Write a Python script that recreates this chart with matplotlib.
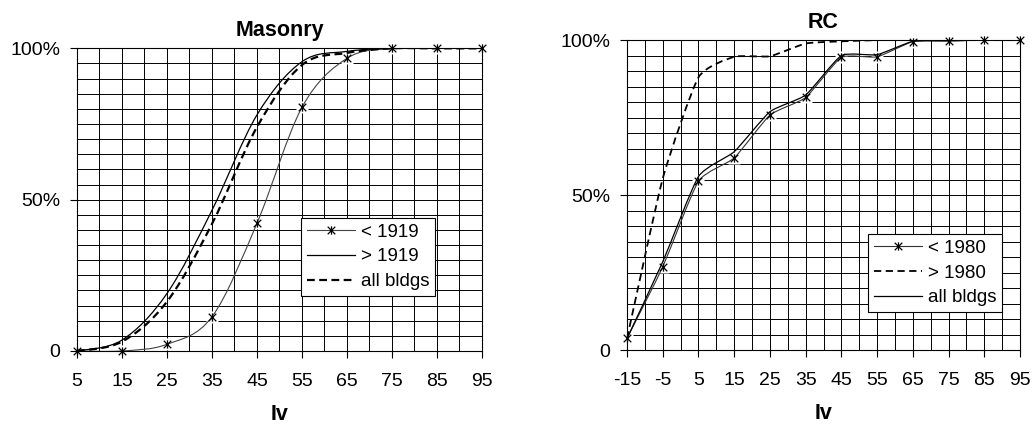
import numpy as np
import matplotlib.pyplot as plt
from matplotlib.path import Path
from matplotlib.patches import PathPatch
from matplotlib.lines import Line2D

plt.rcParams['font.family'] = ['Liberation Sans', 'DejaVu Sans']
plt.rcParams['axes.unicode_minus'] = False

# Masonry data (Iv, cumulative %)
mas_iv = [5, 15, 25, 35, 45, 55, 65, 75, 85, 95]
mas_old = [0, 0, 2.2, 11.3, 42.2, 80.5, 96.7, 100, 100, 100]      # < 1919
mas_new = [0, 3.6, 19, 46.5, 78, 95.6, 99, 100, 100, 100]         # > 1919
mas_all = [0, 3.1, 16.3, 42, 74, 94.5, 98.5, 100, 100, 100]       # all bldgs

# RC data
rc_iv = [-15, -5, 5, 15, 25, 35, 45, 55, 65, 75, 85, 95]
rc_old = [3.8, 26.9, 54.5, 62, 75.8, 81.5, 94.4, 94.6, 99.5, 99.7, 100, 100]   # < 1980
rc_new = [3.8, 55.4, 88, 94.6, 94.8, 98.9, 99.6, 100, 100, 100, 100, 100]    # > 1980
rc_all = [3.8, 28.5, 56, 64, 76.9, 82.3, 95, 95.3, 99.6, 99.8, 100, 100]     # all bldgs

# excel-like star marker: x with a vertical bar
star = Path([(-1, -1), (1, 1), (-1, 1), (1, -1), (0, -1.1), (0, 1.1)],
            [Path.MOVETO, Path.LINETO, Path.MOVETO, Path.LINETO, Path.MOVETO, Path.LINETO])


def smooth(ax, x, y, k=1 / 6, **kw):
    # smoothed line like Excel (cubic bezier through the points)
    x = np.asarray(x, float)
    y = np.asarray(y, float)
    pts = np.column_stack([x, y])
    n = len(pts)
    verts = [pts[0]]
    codes = [Path.MOVETO]
    for i in range(n - 1):
        p0 = pts[max(i - 1, 0)]
        p1 = pts[i]
        p2 = pts[i + 1]
        p3 = pts[min(i + 2, n - 1)]
        verts += [p1 + (p2 - p0) * k, p2 - (p3 - p1) * k, p2]
        codes += [Path.CURVE4] * 3
    ax.add_patch(PathPatch(Path(verts, codes), fill=False, **kw))


def setup(ax, xlo, title):
    ax.set_xlim(xlo, 95)
    ax.set_ylim(0, 100)
    ax.set_xticks(np.arange(xlo, 96, 10))
    ax.set_xticks(np.arange(xlo, 96, 5), minor=True)
    ax.set_yticks([0, 50, 100])
    ax.set_yticklabels(['0', '50%', '100%'])
    ax.set_yticks(np.arange(0, 101, 5), minor=True)
    ax.grid(True, which='both', color='black', lw=0.7)
    ax.set_axisbelow(True)
    ax.tick_params(which='major', direction='out', length=5, width=0.8, labelsize=14)
    ax.tick_params(axis='x', pad=11)
    ax.tick_params(axis='y', pad=7)
    ax.tick_params(which='minor', length=0)
    for s in ax.spines.values():
        s.set_linewidth(0.8)
    ax.set_title(title, fontsize=15.5, fontweight='bold', pad=9)
    ax.set_xlabel('Iv', fontsize=15.5, fontweight='bold', labelpad=10)


fig = plt.figure(figsize=(10.32, 4.28), dpi=100)
ax1 = fig.add_axes([0.0746, 0.180, 0.3924, 0.707])
ax2 = fig.add_axes([0.6076, 0.182, 0.3808, 0.7243])

# Masonry
setup(ax1, 5, 'Masonry')
ax1.plot(mas_iv, mas_old, ls='none', marker='s', ms=8, mfc='white', mec='none', zorder=2)
smooth(ax1, mas_iv, mas_old, color='#444444', lw=0.8, zorder=3)
smooth(ax1, mas_iv, mas_new, color='black', lw=0.9, zorder=3)
smooth(ax1, mas_iv, mas_all, color='black', lw=1.6, ls=(0, (3.5, 2)), zorder=3)
ax1.plot(mas_iv, mas_old, ls='none', marker=star, ms=6, mec='black', mew=0.9,
         zorder=4, clip_on=False)

h1 = [Line2D([], [], color='#444444', lw=0.8, marker=star, ms=6, mec='black', mew=0.9),
      Line2D([], [], color='black', lw=0.9),
      Line2D([], [], color='black', lw=1.6, ls=(0, (3.5, 2)))]
leg1 = ax1.legend(h1, ['< 1919', '> 1919', 'all bldgs'], loc='upper left',
                  bbox_to_anchor=(0.553, 0.439), fontsize=13.5, handlelength=2.6,
                  fancybox=False, framealpha=1, edgecolor='black',
                  borderpad=0.3, labelspacing=0.4, handletextpad=0.3, borderaxespad=0)
leg1.get_frame().set_linewidth(0.8)

# RC
setup(ax2, -15, 'RC')
ax2.plot(rc_iv, rc_old, ls='none', marker='s', ms=8, mfc='white', mec='none', zorder=2)
smooth(ax2, rc_iv, rc_old, k=0.09, color='#333333', lw=0.8, zorder=3)
smooth(ax2, rc_iv, rc_all, k=0.09, color='black', lw=0.9, zorder=3)
smooth(ax2, rc_iv, rc_new, k=0.09, color='black', lw=1.3, ls=(0, (4, 2.5)), zorder=3)
ax2.plot(rc_iv, rc_old, ls='none', marker=star, ms=6, mec='black', mew=0.9,
         zorder=4, clip_on=False)

h2 = [Line2D([], [], color='#333333', lw=0.8, marker=star, ms=6, mec='black', mew=0.9),
      Line2D([], [], color='black', lw=1.3, ls=(0, (4, 2.5))),
      Line2D([], [], color='black', lw=0.9)]
leg2 = ax2.legend(h2, ['< 1980', '> 1980', 'all bldgs'], loc='upper left',
                  bbox_to_anchor=(0.613, 0.374), fontsize=13.5, handlelength=2.6,
                  fancybox=False, framealpha=1, edgecolor='black',
                  borderpad=0.3, labelspacing=0.4, handletextpad=0.3, borderaxespad=0)
leg2.get_frame().set_linewidth(0.8)

fig.savefig('out.png', dpi=100)
